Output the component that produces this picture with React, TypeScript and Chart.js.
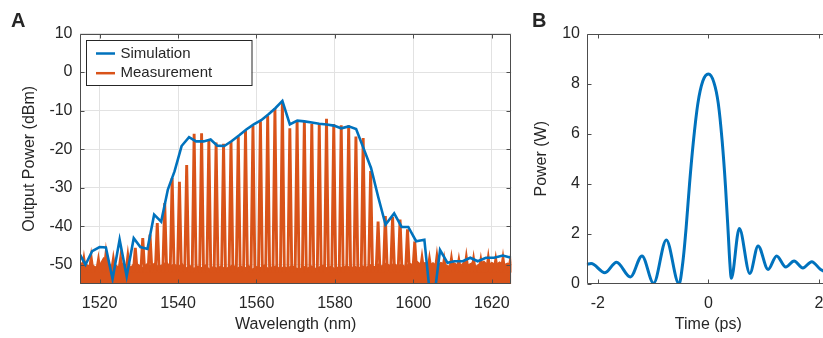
import React, { useEffect, useRef } from "react";
import { Chart, registerables } from "chart.js";

Chart.register(...registerables);

// ---------- Panel A data ----------
const wavelengthTicks = [1520, 1540, 1560, 1580, 1600, 1620];
const powerDbmTicks = [-50, -40, -30, -20, -10, 0, 10];
const seriesNames = ["Simulation", "Measurement"];

const simWavelength = [
  1515.0, 1516.4, 1518.1, 1520.0, 1521.6, 1523.3, 1525.1, 1526.9, 1528.7, 1530.4,
  1532.2, 1533.9, 1535.7, 1537.4, 1539.1, 1540.9, 1542.8, 1544.6, 1546.5, 1548.3,
  1550.0, 1551.8, 1553.7, 1555.6, 1557.4, 1559.3, 1561.2, 1563.0, 1564.8, 1566.6,
  1568.5, 1570.4, 1572.2, 1574.1, 1576.0, 1577.9, 1579.7, 1581.6, 1583.5, 1585.4,
  1587.3, 1589.2, 1591.0, 1592.9, 1595.1, 1597.0, 1598.7, 1600.7, 1602.8, 1604.75,
  1606.8, 1608.7, 1610.4, 1612.6, 1614.5, 1616.4, 1618.5, 1620.6, 1622.8, 1624.9,
];
const simPower = [
  -47.4, -50.0, -46.5, -45.4, -45.5, -53.7, -43.5, -53.0, -43.1, -45.4,
  -45.9, -37.0, -38.8, -30.5, -25.8, -19.2, -16.9, -18.0, -18.0, -17.5,
  -19.1, -19.2, -17.9, -16.4, -14.9, -13.6, -12.5, -11.0, -9.4, -7.5,
  -13.6, -12.6, -12.8, -13.1, -13.4, -13.6, -13.9, -14.6, -14.1, -14.8,
  -19.8, -24.9, -32.3, -39.6, -36.7, -40.2, -40.2, -43.9, -43.5, -63.0,
  -46.2, -49.5, -49.1, -49.1, -48.2, -49.1, -48.2, -48.2, -47.6, -48.2,
];

const combWavelength = [
  1516.0, 1517.85, 1519.7, 1521.6, 1523.5, 1525.35, 1527.2, 1529.1, 1531.0, 1532.85,
  1534.7, 1536.6, 1538.5, 1540.35, 1542.2, 1544.1, 1546.0, 1547.85, 1549.7, 1551.6,
  1553.5, 1555.35, 1557.2, 1559.1, 1561.0, 1562.85, 1564.7, 1566.6, 1568.5, 1570.35,
  1572.2, 1574.1, 1576.0, 1577.85, 1579.7, 1581.6, 1583.5, 1585.35, 1587.2, 1589.1,
  1591.0, 1592.85, 1594.7, 1596.6, 1598.5, 1600.35, 1602.2, 1604.1, 1606.0, 1607.85,
  1609.7, 1611.6, 1613.5, 1615.35, 1617.2, 1619.1, 1621.0, 1622.85, 1624.7,
];
const combPeak = [
  -48.6, -48.2, -48.8, -47.4, -48.6, -48.3, -47.8, -45.6, -43.1, -42.2,
  -39.2, -34.0, -27.5, -28.5, -24.1, -16.0, -15.9, -17.6, -18.3, -18.6,
  -18.0, -16.7, -15.2, -14.0, -12.8, -11.4, -9.4, -7.8, -14.6, -12.6,
  -12.7, -13.4, -13.5, -12.1, -13.5, -13.8, -13.8, -16.7, -17.1, -25.7,
  -38.8, -37.4, -37.6, -38.3, -40.8, -44.0, -48.3, -48.6, -48.0, -48.8,
  -48.5, -48.9, -48.2, -48.6, -48.9, -48.3, -48.7, -48.4, -49.0,
];

// noise floor upper envelope, sampled every 1 nm from 1515 nm
const noiseStartNm = 1515;
const noiseTop = [
  -50.2, -48.8, -50.3, -50.0, -50.6, -50.1, -48.2, -49.0, -50.4, -50.0,
  -50.7, -49.6, -50.2, -50.6, -49.4, -50.1, -50.8, -49.8, -50.3, -49.6,
  -50.5, -50.0, -49.3, -50.4, -49.8, -50.6, -49.7, -50.9, -50.2, -51.0,
  -50.4, -50.8, -50.1, -51.2, -50.5, -50.9, -50.3, -51.1, -50.6, -50.0,
  -51.0, -50.4, -50.9, -50.2, -51.2, -50.5, -50.8, -50.1, -51.0, -50.6,
  -50.3, -51.1, -50.5, -50.9, -50.2, -50.8, -51.2, -50.4, -50.9, -50.3,
  -51.0, -50.6, -50.1, -50.9, -50.4, -51.1, -50.5, -50.8, -50.2, -51.0,
  -50.4, -50.9, -50.3, -50.7, -50.0, -50.6, -49.8, -50.4, -49.6, -50.2,
  -49.7, -50.3, -49.9, -50.5, -49.6, -50.1, -49.2, -50.0, -49.4, -50.2,
  -49.5, -50.3, -49.4, -49.9, -50.4, -49.3, -49.9, -50.3, -49.2, -50.0,
  -49.5, -50.4, -49.6, -49.1, -50.2, -49.4, -50.0, -49.3, -50.1, -49.6,
  -50.0,
];

// ---------- Panel B data ----------
const timeTicks = [-2, 0, 2];
const powerWTicks = [0, 2, 4, 6, 8, 10];
const pulseTime = [
  -2.2, -2.12, -1.87, -1.66, -1.41, -1.2, -0.99, -0.76, -0.53,
  -0.46, -0.4, -0.34, -0.27, -0.19, -0.1, 0, 0.1, 0.18, 0.25, 0.31, 0.36, 0.39, 0.415,
  0.56, 0.75, 0.9, 1.08, 1.235, 1.4, 1.55, 1.71, 1.87, 2.03, 2.12, 2.2,
];
const pulsePower = [
  0.78, 0.82, 0.45, 0.87, 0.28, 1.12, 0.03, 1.76, 0.0,
  0.9, 2.3, 4.0, 5.7, 7.2, 8.1, 8.38, 8.05, 7.2, 5.7, 3.9, 2.0, 0.8, 0.23,
  2.22, 0.42, 1.52, 0.58, 1.12, 0.68, 0.92, 0.64, 0.89, 0.58, 0.5, 0.6,
];

// ---------- styling ----------
const FONT = "'Liberation Sans', Arial, Helvetica, sans-serif";
const TEXT = "#262626";
const AXIS = "#4d4d4d";
const GRID = "#e2e2e2";
const BLUE = "#0072BD";
const ORANGE = "#D95319";

const framePlugin = {
  id: "frame",
  afterDatasetsDraw(chart: any, _args: any, opts: any) {
    const { ctx, chartArea, scales } = chart;
    const l = Math.round(chartArea.left) + 0.5;
    const r = Math.round(chartArea.right) - 0.5;
    const t = Math.round(chartArea.top) + 0.5;
    const b = Math.round(chartArea.bottom) - 0.5;
    const L = opts.tickLen || 4;
    ctx.save();
    ctx.strokeStyle = AXIS;
    ctx.lineWidth = 1;
    ctx.beginPath();
    ctx.rect(l, t, r - l, b - t);
    scales.x.ticks.forEach((tk: any) => {
      const px = Math.round(scales.x.getPixelForValue(tk.value)) + 0.5;
      ctx.moveTo(px, b);
      ctx.lineTo(px, b - L);
      ctx.moveTo(px, t);
      ctx.lineTo(px, t + L);
    });
    scales.y.ticks.forEach((tk: any) => {
      const py = Math.round(scales.y.getPixelForValue(tk.value)) + 0.5;
      ctx.moveTo(l, py);
      ctx.lineTo(l + L, py);
      ctx.moveTo(r, py);
      ctx.lineTo(r - L, py);
    });
    ctx.stroke();
    ctx.restore();
  },
  afterDraw(chart: any, _args: any, opts: any) {
    if (!opts.panel) return;
    const { ctx } = chart;
    ctx.save();
    ctx.fillStyle = TEXT;
    ctx.font = `bold 20px ${FONT}`;
    ctx.textBaseline = "alphabetic";
    ctx.fillText(opts.panel, opts.panelX, opts.panelY);
    ctx.restore();
  },
};

const legendPlugin = {
  id: "boxLegend",
  afterDraw(chart: any, _args: any, opts: any) {
    if (!opts.items) return;
    const { ctx } = chart;
    const { x, y, w, h } = opts;
    ctx.save();
    ctx.fillStyle = "#ffffff";
    ctx.fillRect(x, y, w, h);
    ctx.strokeStyle = "#262626";
    ctx.lineWidth = 1;
    ctx.strokeRect(x + 0.5, y + 0.5, w, h);
    ctx.font = `15px ${FONT}`;
    ctx.textBaseline = "middle";
    opts.items.forEach((it: any, i: number) => {
      const cy = y + 13.5 + i * 19.7;
      ctx.strokeStyle = it.color;
      ctx.lineWidth = 2.5;
      ctx.beginPath();
      ctx.moveTo(x + 10, cy);
      ctx.lineTo(x + 29, cy);
      ctx.stroke();
      ctx.fillStyle = TEXT;
      ctx.fillText(it.label, x + 34.5, cy);
    });
    ctx.restore();
  },
};

const tickFont = { family: FONT, size: 16 };

function PanelA() {
  const ref = useRef<HTMLCanvasElement>(null);
  useEffect(() => {
    const simData = simWavelength.map((x, i) => ({ x, y: simPower[i] }));
    const noiseData = noiseTop.map((y, i) => ({ x: noiseStartNm + i, y }));
    const spikeData: any[] = [];
    combWavelength.forEach((w, i) => {
      spikeData.push({ x: w - 0.5, y: -52 });
      spikeData.push({ x: w, y: combPeak[i] });
      spikeData.push({ x: w + 0.5, y: -52 });
      spikeData.push({ x: w + 0.51, y: null });
    });
    const chart = new Chart(ref.current!, {
      type: "line",
      data: {
        datasets: [
          {
            label: seriesNames[0],
            data: simData,
            borderColor: BLUE,
            borderWidth: 2.6,
            pointRadius: 0,
            tension: 0,
          },
          {
            label: seriesNames[1],
            data: spikeData,
            borderColor: ORANGE,
            borderWidth: 2.9,
            borderJoinStyle: "miter",
            pointRadius: 0,
            tension: 0,
            spanGaps: false,
          },
          {
            label: seriesNames[1] + " floor",
            data: noiseData,
            borderColor: ORANGE,
            backgroundColor: ORANGE,
            borderWidth: 1.2,
            pointRadius: 0,
            tension: 0,
            fill: "start",
          },
        ],
      },
      options: {
        animation: false,
        responsive: false,
        events: [],
        layout: { padding: { left: 0, right: 8.3, top: 33.5, bottom: 0 } },
        plugins: {
          legend: { display: false },
          tooltip: { enabled: false },
          frame: { tickLen: 4, panel: "A", panelX: 11, panelY: 27 },
          boxLegend: {
            x: 86,
            y: 40,
            w: 165.5,
            h: 45,
            items: [
              { label: seriesNames[0], color: BLUE },
              { label: seriesNames[1], color: ORANGE },
            ],
          },
        } as any,
        scales: {
          x: {
            type: "linear",
            min: 1515,
            max: 1625,
            afterBuildTicks: (s: any) => {
              s.ticks = wavelengthTicks.map((v) => ({ value: v }));
            },
            afterFit: (s: any) => {
              s.height = 54;
            },
            grid: { color: GRID, drawTicks: false, lineWidth: 1 },
            border: { display: false },
            ticks: { padding: 10, font: tickFont, color: TEXT, callback: (v: any) => String(v), maxRotation: 0, autoSkip: false },
            title: { display: true, text: "Wavelength (nm)", font: tickFont, color: TEXT, padding: { top: 0, bottom: 3.9 } },
          },
          y: {
            type: "linear",
            min: -55,
            max: 10,
            afterBuildTicks: (s: any) => {
              s.ticks = powerDbmTicks.map((v) => ({ value: v }));
            },
            afterFit: (s: any) => {
              s.width = 80;
            },
            grid: { color: GRID, drawTicks: false, lineWidth: 1 },
            border: { display: false },
            ticks: { padding: 7.5, font: tickFont, color: TEXT, callback: (v: any) => String(v), autoSkip: false },
            title: { display: true, text: "Output Power (dBm)", font: tickFont, color: TEXT, padding: { top: 20.4, bottom: 0 } },
          },
        },
      },
      plugins: [framePlugin, legendPlugin],
    } as any);
    return () => chart.destroy();
  }, []);
  return <canvas ref={ref} width={520} height={338} style={{ position: "absolute", left: 0, top: 0, width: 520, height: 338 }} />;
}

function PanelB() {
  const ref = useRef<HTMLCanvasElement>(null);
  useEffect(() => {
    const data = pulseTime.map((x, i) => ({ x, y: pulsePower[i] }));
    const chart = new Chart(ref.current!, {
      type: "line",
      data: {
        datasets: [
          {
            label: "Pulse",
            data,
            borderColor: BLUE,
            borderWidth: 3,
            pointRadius: 0,
            cubicInterpolationMode: "monotone",
          },
        ],
      },
      options: {
        animation: false,
        responsive: false,
        events: [],
        layout: { padding: { left: 0, right: 20, top: 33.5, bottom: 0 } },
        plugins: {
          legend: { display: false },
          tooltip: { enabled: false },
          frame: { tickLen: 4, panel: "B", panelX: 12, panelY: 27 },
        } as any,
        scales: {
          x: {
            type: "linear",
            min: -2.2,
            max: 2.2,
            afterBuildTicks: (s: any) => {
              s.ticks = timeTicks.map((v) => ({ value: v }));
            },
            afterFit: (s: any) => {
              s.height = 54;
            },
            grid: { display: false, drawTicks: false },
            border: { display: false },
            ticks: { padding: 10, font: tickFont, color: TEXT, callback: (v: any) => String(v), maxRotation: 0, autoSkip: false },
            title: { display: true, text: "Time (ps)", font: tickFont, color: TEXT, padding: { top: 0, bottom: 3.9 } },
          },
          y: {
            type: "linear",
            min: 0,
            max: 10,
            afterBuildTicks: (s: any) => {
              s.ticks = powerWTicks.map((v) => ({ value: v }));
            },
            afterFit: (s: any) => {
              s.width = 66.7;
            },
            grid: { display: false, drawTicks: false },
            border: { display: false },
            ticks: { padding: 6.7, font: tickFont, color: TEXT, callback: (v: any) => String(v), autoSkip: false },
            title: { display: true, text: "Power (W)", font: tickFont, color: TEXT, padding: { top: 12.1, bottom: 0 } },
          },
        },
      },
      plugins: [framePlugin],
    } as any);
    return () => chart.destroy();
  }, []);
  return <canvas ref={ref} width={330} height={338} style={{ position: "absolute", left: 520, top: 0, width: 330, height: 338 }} />;
}

export default function App() {
  return (
    <div style={{ position: "fixed", left: 0, top: 0, width: 823, height: 338, overflow: "hidden", background: "#ffffff" }}>
      <PanelA />
      <PanelB />
    </div>
  );
}
